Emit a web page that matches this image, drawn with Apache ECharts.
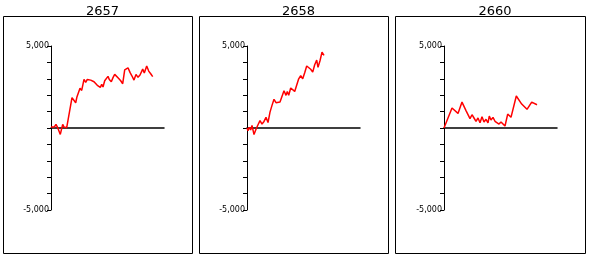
<!DOCTYPE html>
<html><head><meta charset="utf-8">
<script src="https://cdn.jsdelivr.net/npm/echarts@6/dist/echarts.min.js"></script>
<style>html,body{margin:0;padding:0;background:#fff}#c{width:589px;height:257px}</style>
</head><body><div id="c"></div>
<script>
const titles = ["2657", "2658", "2660"];
const yTicks = [-5000, 5000];
const x2657 = [0,1.7,3.3,5,6.7,9.3,11.7,13,14.3,15.7,21,23,24.7,26,27.7,29,30.7,33,34.7,36.3,38,39.7,41.3,43,44.7,46.3,47.7,49.3,50.7,52,53.7,55,57,58.3,60.3,62,63.7,65.7,67.7,69.7,71.7,73.7,75,77,79,81,83,85,87,89,91.7,93.3,95.7,97.7,99.7,101.7];
const y2657 = [60,180,60,220,20,-390,220,60,180,20,1850,1750,1540,1910,1810,2420,2290,2960,2780,2960,3020,2920,2960,2820,2720,2600,2680,2480,2660,2500,2880,2760,3150,2960,2820,3070,3270,3170,3020,2880,2700,3550,3430,3670,3390,3170,2920,3270,3090,3230,3590,3350,3780,3470,3310,3130];
const x2658 = [0,1,2.3,3.7,5,7,9,11,13,15,17,19,21,23,25,27,29,31,33,35,37,39,40.3,41.7,43.7,45.7,47.7,49.7,51.7,53.7,55.7,57.7,59.7,61.7,63.7,65.7,67.7,69.7,71,73,75,77];
const y2658 = [0,-160,40,-120,160,-400,-80,200,450,240,400,650,330,970,1380,1750,1540,1460,1580,1460,2270,1990,2230,1990,2440,2360,2230,2110,3000,3200,3000,3370,3780,3660,3580,3410,3860,4140,3700,4100,4630,4430];
const x2660 = [0,8,14,18,22,26,28,30,32,34,36,38,40,42,44,45.3,47,49,51,53,55,57,59,61,63.7,67,72.3,77.7,83,87.7,89.7,93];
const y2660 = [0,1220,890,1580,1060,570,810,610,410,610,320,690,370,530,320,730,490,650,410,490,240,370,320,120,850,650,1950,1460,1140,1580,1500,1420];

const xs = [x2657, x2658, x2660];
const ys = [y2657, y2658, y2660];
const lefts = [51, 247, 444];
const boxes = [[3,16,189,237],[199,16,189,237],[395,16,190,237]];
const centers = [97.5, 293.5, 490];

const chart = echarts.init(document.getElementById('c'), null, {renderer:'canvas'});
const option = {
  animation:false,
  backgroundColor:'#fff',
  title: titles.map((t,i)=>({text:t, left:centers[i], top:0, textAlign:'center',
    textStyle:{fontFamily:'DejaVu Sans', fontSize:13, fontWeight:'normal', color:'#000'}})),
  graphic: boxes.map(b=>({type:'rect', shape:{x:b[0]+0.5,y:b[1]+0.5,width:b[2],height:b[3]},
    style:{fill:'none', stroke:'#000', lineWidth:1}, silent:true})),
  grid: lefts.map(l=>({left:l, top:46, width:113, height:164})),
  xAxis: lefts.map((l,i)=>({type:'value', gridIndex:i, min:0, max:113,
    axisLine:{onZero:true, lineStyle:{color:'#000', width:1.5}}, axisTick:{show:false},
    axisLabel:{show:false}, splitLine:{show:false}})),
  yAxis: lefts.map((l,i)=>({type:'value', gridIndex:i, min:-5000, max:5000, interval:1000,
    axisLine:{show:true, onZero:false, lineStyle:{color:'#000', width:1}},
    axisTick:{show:true, length:4, lineStyle:{color:'#000'}},
    axisLabel:{margin:2, fontFamily:'DejaVu Sans', fontSize:8, color:'#000',
      formatter:v=> yTicks.includes(v) ? v.toLocaleString('en-US') : ''},
    splitLine:{show:false}})),
  series: ys.map((y,i)=>({type:'line', xAxisIndex:i, yAxisIndex:i, symbol:'none',
    lineStyle:{color:'#ff0000', width:1.5}, data:y.map((v,k)=>[xs[i][k], v])}))
};
chart.setOption(option);
</script></body></html>
